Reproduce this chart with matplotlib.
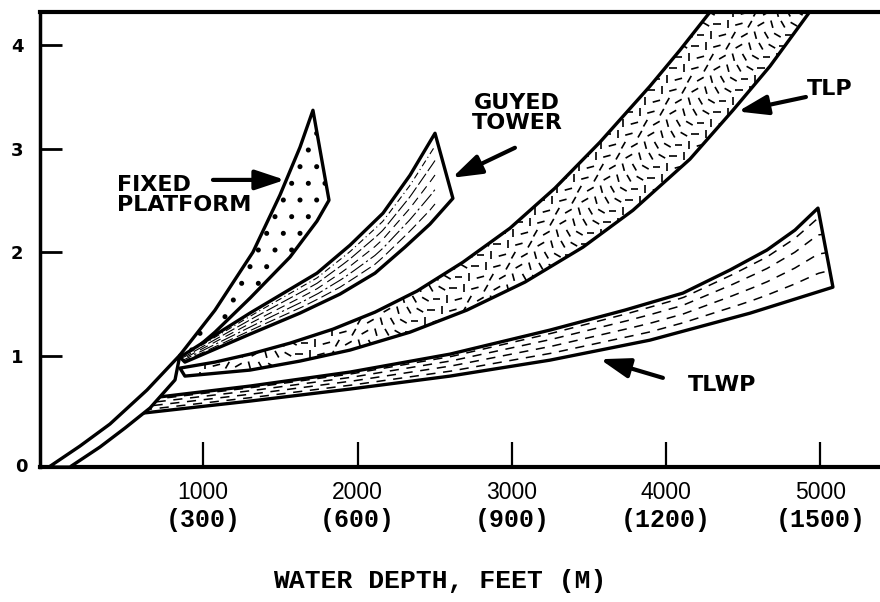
import numpy as np
import matplotlib
matplotlib.use('Agg')
import matplotlib.pyplot as plt
from matplotlib.collections import LineCollection
from matplotlib.transforms import blended_transform_factory

# ---------------- data ----------------
depth_ticks = [1000, 2000, 3000, 4000, 5000]
depth_m_labels = ['(300)', '(600)', '(900)', '(1200)', '(1500)']
y_ticks = [1, 2, 3, 4]

stem_upper_x = [0, 201, 395, 635, 849]
stem_upper_y = [-0.07, 0.132, 0.344, 0.672, 1.010]
stem_lower_x = [136, 331, 493, 655, 817]
stem_lower_y = [-0.07, 0.123, 0.306, 0.499, 0.770]

fixed_upper_x = [849, 1076, 1322, 1497, 1627, 1711]
fixed_upper_y = [1.010, 1.443, 2.003, 2.553, 3.015, 3.372]
fixed_lower_x = [881, 1076, 1303, 1562, 1737, 1815]
fixed_lower_y = [0.981, 1.231, 1.559, 1.955, 2.302, 2.504]

guyed_upper_x = [849, 1303, 1737, 1951, 2165, 2340, 2502]
guyed_upper_y = [0.990, 1.415, 1.800, 2.070, 2.379, 2.745, 3.150]
guyed_lower_x = [881, 1303, 1627, 1886, 2113, 2307, 2469, 2618]
guyed_lower_y = [0.942, 1.212, 1.415, 1.598, 1.800, 2.051, 2.273, 2.522]

tlp_upper_x = [849, 1076, 1303, 1562, 1841, 2113, 2385, 2683, 2988, 3279,
               3571, 3895, 4089, 4283, 4336]
tlp_upper_y = [0.884, 0.942, 1.019, 1.125, 1.260, 1.424, 1.627, 1.906, 2.234,
               2.620, 3.064, 3.604, 3.951, 4.317, 4.414]
tlp_lower_x = [881, 1303, 1627, 1951, 2340, 2709, 3085, 3461, 3785, 4154,
               4433, 4673, 4919, 4964]
tlp_lower_y = [0.807, 0.865, 0.952, 1.058, 1.231, 1.444, 1.714, 2.051, 2.407,
               2.900, 3.372, 3.797, 4.298, 4.394]

tlwp_upper_x = [655, 1303, 1951, 2599, 3247, 3733, 4109, 4413, 4653, 4835, 4984]
tlwp_upper_y = [0.595, 0.711, 0.846, 1.019, 1.251, 1.444, 1.608, 1.830, 2.023,
                2.216, 2.428]
tlwp_lower_x = [609, 1303, 1951, 2599, 3247, 3895, 4543, 5081]
tlwp_lower_y = [0.450, 0.566, 0.682, 0.807, 0.961, 1.154, 1.414, 1.665]

labels = ['FIXED\nPLATFORM', 'GUYED\nTOWER', 'TLP', 'TLWP']
label_x = [441, 3033, 5062, 4362]
label_y = [2.55, 3.35, 3.58, 0.72]
arrow_tail_x = [1063, 3020, 4906, 3979]
arrow_tail_y = [2.70, 3.01, 3.50, 0.79]
arrow_head_x = [1530, 2612, 4465, 3571]
arrow_head_y = [2.70, 2.72, 3.36, 0.97]

# ---------------- figure ----------------
plt.rcParams['hatch.linewidth'] = 1.2
W, H = 880, 602
fig = plt.figure(figsize=(W / 100, H / 100), dpi=100)
ax = fig.add_axes([40 / W, (H - 467) / H, 840 / W, (467 - 12) / H])
ax.set_xlim(-58, 5386)
ax.set_ylim(-0.07, 4.32)

# pixel sizes in data units (for textures)
sx = (5386 + 58) / 840.0
sy = (4.32 + 0.07) / 455.0


def band(ux, uy, lx, ly, **kw):
    xs = list(ux) + list(lx)[::-1]
    ys = list(uy) + list(ly)[::-1]
    return ax.fill(xs, ys, facecolor='white', edgecolor='black', lw=2.4,
                   joinstyle='round', **kw)[0]


# stem
band(stem_upper_x, stem_upper_y, stem_lower_x, stem_lower_y, zorder=3)

# fixed platform (dots)
fixed_patch = band(fixed_upper_x, fixed_upper_y, fixed_lower_x, fixed_lower_y,
                   hatch='.', zorder=2)

# guyed tower (thin streaks along the band)
guyed_patch = band(guyed_upper_x, guyed_upper_y, guyed_lower_x, guyed_lower_y, zorder=2)
xg = np.linspace(guyed_upper_x[0], guyed_upper_x[-1], 200)
gu = np.interp(xg, guyed_upper_x, guyed_upper_y)
gl = np.interp(xg, guyed_lower_x, guyed_lower_y)
styles = [(0, (10, 4)), (3, (14, 3, 2, 3)), (6, (8, 5)), (1, (12, 3)), (4, (6, 3, 1, 3))]
for f, ds in zip([0.17, 0.34, 0.51, 0.68, 0.85], styles):
    ln, = ax.plot(xg, gl + f * (gu - gl), color='black', lw=0.8, linestyle=ds, zorder=2)
    ln.set_clip_path(guyed_patch)

# TLP (short dashes in many directions)
tlp_patch = band(tlp_upper_x, tlp_upper_y, tlp_lower_x, tlp_lower_y, zorder=2)
angles = np.deg2rad([0, 60, 120, 90, 30, 150, 15, 105])
segs = []
step = 11
for j, yy in enumerate(np.arange(0.7, 4.5, step * sy)):
    for i, xx in enumerate(np.arange(800, 5000, step * sx)):
        x0 = xx + (j % 2) * step * sx / 2
        a = angles[(i * 3 + j * 5) % len(angles)]
        h = 3.8
        segs.append([(x0 - h * np.cos(a) * sx, yy - h * np.sin(a) * sy),
                     (x0 + h * np.cos(a) * sx, yy + h * np.sin(a) * sy)])
lc = LineCollection(segs, colors='black', linewidths=1.2, zorder=2)
ax.add_collection(lc)
lc.set_clip_path(tlp_patch)

# TLWP (dashed lines along the band)
tlwp_patch = band(tlwp_upper_x, tlwp_upper_y, tlwp_lower_x, tlwp_lower_y, zorder=2)
xw = np.linspace(tlwp_lower_x[0], tlwp_lower_x[-1], 200)
wu = np.interp(xw, tlwp_upper_x, tlwp_upper_y)
wl = np.interp(xw, tlwp_lower_x, tlwp_lower_y)
for f, off in zip([0.22, 0.45, 0.68, 0.88], [0, 4, 2, 6]):
    ln, = ax.plot(xw, wl + f * (wu - wl), color='black', lw=1.1,
                  linestyle=(off, (6, 5)), zorder=2)
    ln.set_clip_path(tlwp_patch)

# labels and arrows
for t, lx_, ly_, tx, ty, hx, hy in zip(labels, label_x, label_y, arrow_tail_x,
                                       arrow_tail_y, arrow_head_x, arrow_head_y):
    ha = 'left' if t.startswith('FIXED') else 'center'
    ax.text(lx_, ly_, t, ha=ha, va='center', fontsize=16, fontweight='bold',
            family='DejaVu Sans', linespacing=1.0, zorder=5)
    ax.annotate('', xy=(hx, hy), xytext=(tx, ty),
                arrowprops=dict(arrowstyle='-|>,head_length=0.9,head_width=0.3',
                                lw=3, color='black', shrinkA=0, shrinkB=0,
                                mutation_scale=20), zorder=5)

# axes styling
for s in ['top', 'bottom']:
    ax.spines[s].set_linewidth(3)
ax.spines['left'].set_linewidth(2.5)
ax.spines['right'].set_visible(False)

ax.set_yticks(y_ticks)
ax.set_yticklabels([str(v) for v in y_ticks])
ax.tick_params(axis='y', direction='in', length=16, width=2, pad=12,
               labelsize=13)
for lab in ax.get_yticklabels():
    lab.set_fontweight('bold')
trans_y = blended_transform_factory(ax.transAxes, ax.transData)
ax.text(-0.022, -0.07, '0', transform=trans_y, ha='center', va='center',
        fontsize=13, fontweight='bold')

ax.set_xticks(depth_ticks)
ax.set_xticklabels([str(v) for v in depth_ticks], family='Liberation Sans',
                   fontsize=16.5)
ax.tick_params(axis='x', direction='in', length=18, width=1.6, pad=10)
trans_x = blended_transform_factory(ax.transData, fig.transFigure)
for xv, lab in zip(depth_ticks, depth_m_labels):
    ax.text(xv, 1 - 520 / H, lab, transform=trans_x, ha='center', va='center',
            family='Liberation Mono', fontweight='bold', fontsize=18)

fig.text(0.5, 1 - 581 / H, 'WATER DEPTH, FEET (M)', ha='center', va='center',
         family='Liberation Mono', fontweight='bold', fontsize=19)

fig.savefig('out.png', dpi=100)
